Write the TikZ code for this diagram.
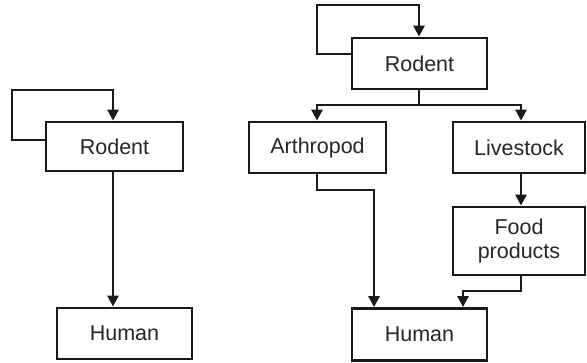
\documentclass[tikz,border=0pt]{standalone}
\usepackage{fontspec}
\setmainfont{Liberation Sans}
\usetikzlibrary{arrows.meta}
\begin{document}
\begin{tikzpicture}[x=1pt,y=-1pt,
  box/.style={draw=black!90,line width=2.8pt,rectangle,inner sep=0pt,font=\fontsize{21.5}{25}\selectfont,text=black!85,align=center},
  arr/.style={line width=2.8pt,draw=black!90,-{Triangle[length=11pt,width=11pt]}},
  ln/.style={line width=2.8pt,draw=black!90}]
\useasboundingbox (0,0) rectangle (587,363);
% left diagram
\node[box,minimum width=137pt,minimum height=49pt] (lr) at (114.5,146.5) {Rodent};
\node[box,minimum width=135pt,minimum height=51pt] (lh) at (124.5,333.5) {Human};
% right diagram
\node[box,minimum width=135pt,minimum height=51pt] (rr) at (419.5,63.5) {Rodent};
\node[box,minimum width=137pt,minimum height=51pt] (ar) at (317.5,147.5) {Arthropod};
\node[box,minimum width=132pt,minimum height=51pt] (lv) at (519,147.5) {Livestock};
\node[box,minimum width=132pt,minimum height=68pt] (fp) at (519,241) {Food\\[-1pt]products};
\node[box,minimum width=135pt,minimum height=52pt] (rh) at (419.5,334.5) {Human};
% helper coordinates
\coordinate (lx) at (113,0);
\coordinate (rx) at (419,0);
\coordinate (ax) at (317,0);
\coordinate (vx) at (521,0);
\coordinate (hx1) at (374,0);
\coordinate (hx2) at (463,0);
\coordinate (split) at (419,105);
% left connectors
\draw[arr] (lr.west |- 0,140) -- (12,140) -- (12,90) -- (113,90) -- (lr.north -| lx);
\draw[arr] (lr.south -| lx) -- (lh.north -| lx);
% right connectors
\draw[arr] (rr.west |- 0,54) -- (317,54) -- (317,5) -- (419,5) -- (rr.north -| rx);
\draw[ln] (rr.south -| rx) -- (split);
\draw[arr] (split) -- (317,105) -- (ar.north -| ax);
\draw[arr] (split) -- (521,105) -- (lv.north -| vx);
\draw[arr] (lv.south -| vx) -- (fp.north -| vx);
\draw[arr] (ar.south -| ax) -- (317,190) -- (374,190) -- (rh.north -| hx1);
\draw[arr] (fp.south -| vx) -- (521,291) -- (463,291) -- (rh.north -| hx2);
\end{tikzpicture}
\end{document}
